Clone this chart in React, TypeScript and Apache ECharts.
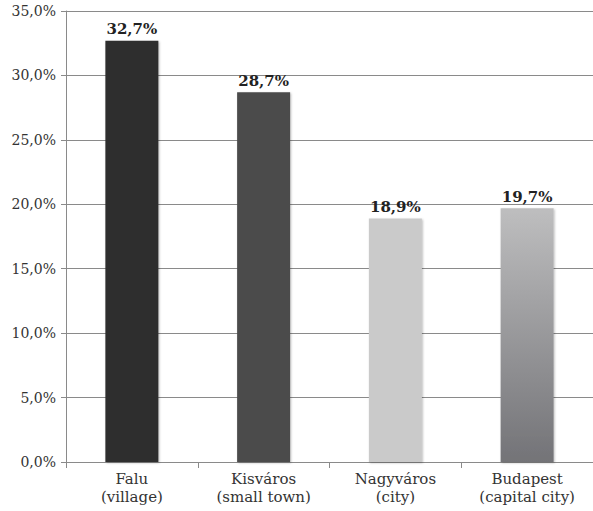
import React, { useEffect, useRef } from "react";
import * as echarts from "echarts";

const categories = ["Falu\n(village)", "Kisváros\n(small town)", "Nagyváros\n(city)", "Budapest\n(capital city)"];
const values = [32.7, 28.7, 18.9, 19.7];
const yTicks = { min: 0, max: 35, interval: 5 };

const FONT = "'DejaVu Serif', Georgia, serif";

const fmt = (v: number) => v.toFixed(1).replace(".", ",") + "%";

export default function App() {
  const ref = useRef<HTMLDivElement>(null);
  useEffect(() => {
    if (!ref.current) return;
    const chart = echarts.init(ref.current, undefined, { renderer: "svg" });
    const colors: any[] = [
      "#2f2f2f",
      "#4b4b4b",
      "#cacaca",
      new echarts.graphic.LinearGradient(0, 0, 0, 1, [
        { offset: 0, color: "#bebebf" },
        { offset: 1, color: "#737377" },
      ]),
    ];
    chart.setOption({
      animation: false,
      backgroundColor: "#ffffff",
      grid: { left: 66, top: 11, height: 451, width: 533, containLabel: false },
      xAxis: {
        type: "category",
        data: categories,
        axisLine: { show: true, lineStyle: { color: "#8a8a8a", width: 1 } },
        axisTick: { show: true, length: 6, lineStyle: { color: "#8a8a8a" } },
        axisLabel: {
          color: "#333",
          fontFamily: FONT,
          fontSize: 15,
          lineHeight: 18,
          margin: 8,
          interval: 0,
        },
      },
      yAxis: {
        type: "value",
        min: yTicks.min,
        max: yTicks.max,
        interval: yTicks.interval,
        axisLine: { show: true, lineStyle: { color: "#8a8a8a", width: 1 } },
        axisTick: { show: true, length: 5, lineStyle: { color: "#8a8a8a" } },
        splitLine: { show: true, lineStyle: { color: "#8a8a8a", width: 1 } },
        axisLabel: {
          color: "#333",
          fontFamily: FONT,
          fontSize: 14,
          margin: 10,
          formatter: (v: number) => fmt(v),
        },
      },
      series: [
        {
          type: "bar",
          barWidth: 53,
          data: values.map((v, i) => ({
            value: v,
            itemStyle: {
              color: colors[i],
              shadowColor: "rgba(0,0,0,0.25)",
              shadowBlur: 2,
              shadowOffsetX: 1,
              shadowOffsetY: 1,
            },
          })),
          label: {
            show: true,
            position: "top",
            distance: 4,
            color: "#222",
            fontFamily: FONT,
            fontWeight: "bold",
            fontSize: 15,
            formatter: (p: any) => fmt(p.value),
          },
        },
      ],
    });
    return () => chart.dispose();
  }, []);
  return (
    <div
      ref={ref}
      style={{ position: "fixed", left: 0, top: 0, width: 593, height: 511 }}
    />
  );
}
